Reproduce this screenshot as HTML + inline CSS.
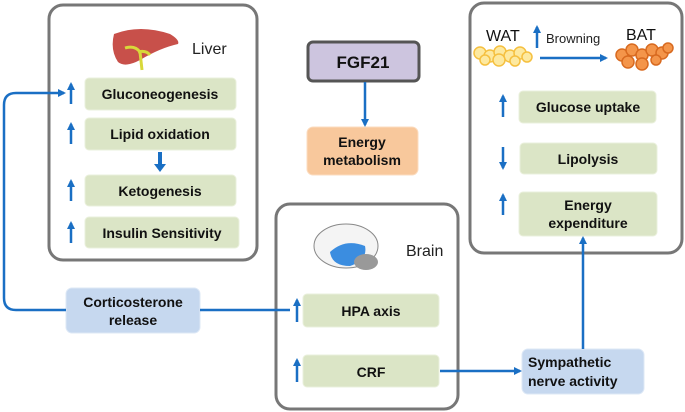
<!DOCTYPE html>
<html><head><meta charset="utf-8"><style>
body{margin:0;background:#fff}
svg{display:block}
text{font-family:"Liberation Sans",Arial,sans-serif}
.b{font-weight:bold;font-size:14px;fill:#111}
</style></head><body>
<svg width="685" height="412" viewBox="0 0 685 412" xmlns="http://www.w3.org/2000/svg">
<defs>
<marker id="ah" markerWidth="8" markerHeight="8" refX="6" refY="4" orient="auto" markerUnits="userSpaceOnUse"><path d="M0,0 L8,4 L0,8 z" fill="#1a6fc4"/></marker>
</defs>
<g fill="none" stroke="#777" stroke-width="3">
<rect x="49" y="5" width="208" height="255" rx="14"/>
<rect x="276" y="204" width="182" height="205" rx="14"/>
<rect x="470" y="3" width="212" height="250" rx="14"/>
</g>
<!-- liver icon -->
<path d="M114,34 Q140,24 170,34 Q180,40 178,44 Q160,48 140,60 Q125,68 118,62 Q110,50 114,34 z" fill="#c8504a"/>
<path d="M125,48 Q135,45 140,52 L142,70 M138,52 Q146,50 150,55" stroke="#d8d83a" stroke-width="3" fill="none"/>
<text x="192" y="54" font-size="16" fill="#222">Liver</text>
<!-- green boxes liver -->
<g fill="#dbe5c6" stroke="#eaf0dc" stroke-width="1">
<rect x="85" y="78" width="151" height="32" rx="4"/>
<rect x="85" y="118" width="151" height="32" rx="4"/>
<rect x="85" y="175" width="151" height="31" rx="4"/>
<rect x="85" y="217" width="154" height="31" rx="4"/>
<rect x="303" y="294" width="136" height="33" rx="4"/>
<rect x="303" y="355" width="136" height="32" rx="4"/>
<rect x="519" y="91" width="137" height="32" rx="4"/>
<rect x="520" y="143" width="137" height="31" rx="4"/>
<rect x="519" y="192" width="138" height="44" rx="4"/>
</g>
<text class="b" x="160" y="99" text-anchor="middle">Gluconeogenesis</text>
<text class="b" x="160" y="139" text-anchor="middle">Lipid oxidation</text>
<text class="b" x="160" y="196" text-anchor="middle">Ketogenesis</text>
<text class="b" x="162" y="238" text-anchor="middle">Insulin Sensitivity</text>
<text class="b" x="371" y="316" text-anchor="middle">HPA axis</text>
<text class="b" x="371" y="377" text-anchor="middle">CRF</text>
<text class="b" x="588" y="112" text-anchor="middle">Glucose uptake</text>
<text class="b" x="588" y="164" text-anchor="middle">Lipolysis</text>
<text class="b" x="588" y="210" text-anchor="middle">Energy</text>
<text class="b" x="588" y="228" text-anchor="middle">expenditure</text>
<!-- blue boxes -->
<g fill="#c6d8ef" stroke="#dde8f6">
<rect x="66" y="288" width="134" height="45" rx="6"/>
<rect x="522" y="349" width="122" height="45" rx="6"/>
</g>
<text class="b" x="133" y="307" text-anchor="middle">Corticosterone</text>
<text class="b" x="133" y="325" text-anchor="middle">release</text>
<text class="b" x="528" y="367">Sympathetic</text>
<text class="b" x="528" y="386">nerve activity</text>
<!-- FGF21 -->
<rect x="308" y="42" width="111" height="39" rx="5" fill="#cdc5df" stroke="#555" stroke-width="3"/>
<text x="363" y="68" text-anchor="middle" font-weight="bold" font-size="17" fill="#111">FGF21</text>
<rect x="307" y="127" width="111" height="48" rx="6" fill="#f8c89c" stroke="#fbdcc0"/>
<text class="b" x="362" y="147" text-anchor="middle">Energy</text>
<text class="b" x="362" y="165" text-anchor="middle">metabolism</text>
<!-- brain -->
<ellipse cx="346" cy="246" rx="32" ry="22" fill="#f4f4f4" stroke="#888"/>
<path d="M330,252 Q345,238 365,246 Q368,260 350,266 Q332,266 330,252z" fill="#3b8de0"/>
<ellipse cx="366" cy="262" rx="12" ry="8" fill="#999"/>
<text x="406" y="256" font-size="16" fill="#222">Brain</text>
<!-- WAT/BAT -->
<text x="486" y="41" font-size="16" fill="#111">WAT</text>
<text x="546" y="43" font-size="13" fill="#222">Browning</text>
<text x="626" y="40" font-size="16" fill="#111">BAT</text>
<g fill="#fde9a0" stroke="#f5c040" stroke-width="1.5">
<circle cx="480" cy="53" r="6"/><circle cx="490" cy="56" r="6"/><circle cx="500" cy="52" r="6"/><circle cx="510" cy="56" r="6"/><circle cx="520" cy="53" r="6"/><circle cx="527" cy="57" r="5"/><circle cx="485" cy="60" r="5"/><circle cx="499" cy="60" r="6"/><circle cx="515" cy="61" r="5"/>
</g>
<g fill="#f4954a" stroke="#d86a20" stroke-width="1.5">
<circle cx="622" cy="55" r="6"/><circle cx="632" cy="50" r="6"/><circle cx="642" cy="55" r="6"/><circle cx="652" cy="50" r="6"/><circle cx="662" cy="53" r="6"/><circle cx="668" cy="48" r="5"/><circle cx="628" cy="62" r="6"/><circle cx="642" cy="64" r="6"/><circle cx="656" cy="60" r="5"/>
</g>
<!-- arrows -->
<g stroke="#1a6fc4" stroke-width="2.5" fill="none" marker-end="url(#ah)">
<line x1="71" y1="104" x2="71" y2="84"/>
<line x1="71" y1="144" x2="71" y2="124"/>
<line x1="71" y1="201" x2="71" y2="181"/>
<line x1="71" y1="243" x2="71" y2="223"/>
<line x1="297" y1="322" x2="297" y2="300"/>
<line x1="297" y1="382" x2="297" y2="360"/>
<line x1="503" y1="117" x2="503" y2="96"/>
<line x1="503" y1="147" x2="503" y2="168"/>
<line x1="503" y1="215" x2="503" y2="195"/>
<line x1="537" y1="48" x2="537" y2="27"/>
<line x1="540" y1="58" x2="606" y2="58"/>
<line x1="365" y1="82" x2="365" y2="125"/>
<line x1="440" y1="371" x2="520" y2="371"/>
<line x1="583" y1="349" x2="583" y2="238"/>
<path d="M66,310 L16,310 Q4,310 4,298 L4,105 Q4,93 16,93 L64,93"/>
</g>
<line x1="200" y1="310" x2="290" y2="310" stroke="#1a6fc4" stroke-width="2.5"/>
<line x1="160" y1="152" x2="160" y2="166" stroke="#1a6fc4" stroke-width="4"/>
<path d="M154,164 L166,164 L160,172z" fill="#1a6fc4"/>
</svg>
</body></html>
